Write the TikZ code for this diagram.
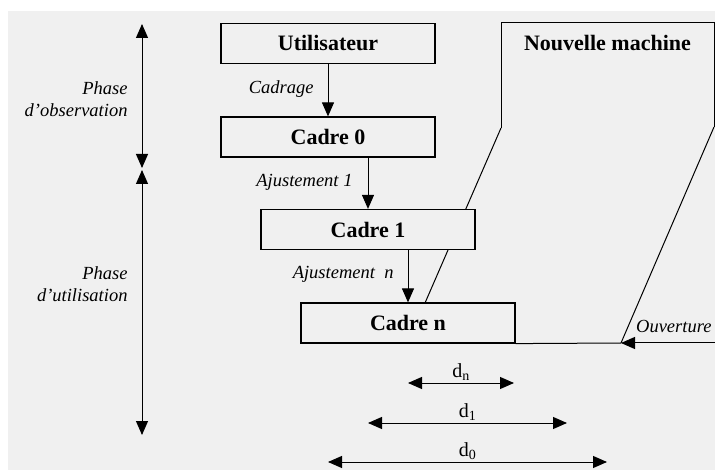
\documentclass[tikz,border=0pt]{standalone}
\usepackage{fontspec}
\setmainfont{Liberation Serif}
\usetikzlibrary{arrows.meta}
\definecolor{fond}{HTML}{F0F0F0}
\begin{document}
\begin{tikzpicture}[x=1pt,y=-1pt,line width=1pt,>={Triangle[length=14pt,width=12pt]},
  cadre/.style={draw,line width=1.2pt,fill=fond,minimum width=214pt,minimum height=40pt,inner sep=0pt,font=\fontsize{22}{26}\selectfont\bfseries},
  titre/.style={inner sep=0pt,font=\fontsize{22}{26}\selectfont\bfseries},
  lbl/.style={inner sep=0pt,align=right,font=\fontsize{18.5}{22}\selectfont\itshape},
  cote/.style={inner sep=2pt,font=\fontsize{20}{22}\selectfont}]
\useasboundingbox (0,0) rectangle (715,470);
\fill [fond] (8,11) rectangle (715,470);
\coordinate (mg) at (501,128);
\coordinate (md) at (714,127);
\coordinate (mbas) at (425,303);
\coordinate (ouv) at (621,343);
\coordinate (ouvR) at (715,343);
\draw (mg) -- (501,23) -- (714,23) -- (md);
\draw (md) -- (ouv);
\draw (mg) -- (mbas);
\node [titre] (machine) at (607.5,43.5) {Nouvelle machine};
\node [cadre] (util) at (328,43.5) {Utilisateur};
\node [cadre] (cadre0) at (328,137) {Cadre 0};
\node [cadre] (cadre1) at (368,229.5) {Cadre 1};
\node [cadre] (cadren) at (408,323) {Cadre n};
\draw [->] (util) -- (cadre0);
\draw [->] (cadre0.south -| cadre1.north) -- (cadre1);
\draw [->] (cadre1.south -| cadren.north) -- (cadren);
\node [lbl,anchor=base east] (cadrage) at (314,94) {Cadrage};
\node [lbl,anchor=base east] (aj1) at (353,187) {Ajustement 1};
\node [lbl,anchor=base east] (ajn) at (394,279) {Ajustement\ \ n};
\draw (cadren.south east) -- (ouv);
\draw [->] (ouvR) -- (ouv);
\node [lbl,anchor=base east] (ouverture) at (712,333) {Ouverture};
\coordinate (p0) at (142,24);
\coordinate (p1) at (142,168);
\coordinate (p2) at (142,170);
\coordinate (p3) at (142,435);
\draw [<->] (p0) -- (p1);
\draw [<->] (p2) -- (p3);
\node [lbl,anchor=east] (obs) at (128,99) {Phase\\d'observation};
\node [lbl,anchor=east] (utl) at (128,284) {Phase\\d'utilisation};
\coordinate (dn1) at (408,383);
\coordinate (dn2) at (514,383);
\coordinate (d11) at (368,423);
\coordinate (d12) at (567,423);
\coordinate (d01) at (328,462);
\coordinate (d02) at (607,462);
\draw [<->] (dn1) -- (dn2) node [cote,midway,above] (dn) {d\textsubscript{n}};
\draw [<->] (d11) -- (d12) node [cote,midway,above] (d1) {d\textsubscript{1}};
\draw [<->] (d01) -- (d02) node [cote,midway,above] (d0) {d\textsubscript{0}};
\end{tikzpicture}
\end{document}
